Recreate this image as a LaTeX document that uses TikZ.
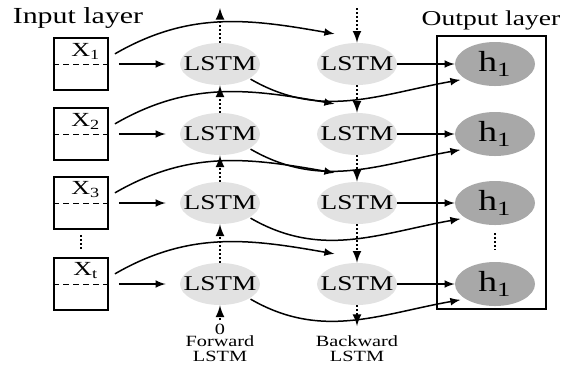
\documentclass[tikz,border=0pt]{standalone}
\usepackage{fontspec}
\setmainfont{Liberation Serif}
\usetikzlibrary{shapes.geometric,calc}
\definecolor{lstmgray}{RGB}{226,226,226}
\definecolor{outgray}{RGB}{168,168,168}
\newcommand{\wide}[1]{\scalebox{1.3}[1]{#1}}

\begin{document}
\begin{tikzpicture}[x=0.5pt,y=-0.5pt]
		\tikzset{>=latex}
		\tikzset{
			inbox/.style={draw,line width=0.9pt,minimum width=27pt,minimum height=26pt,inner sep=0pt},
			lstm/.style={ellipse,fill=lstmgray,minimum width=40pt,minimum height=21pt,inner xsep=-6pt,inner ysep=0pt,font=\fontsize{10.5}{11}\selectfont},
			hout/.style={ellipse,fill=outgray,minimum width=40pt,minimum height=22pt,inner sep=0pt,font=\fontsize{14.5}{15}\selectfont},
			xlabel/.style={inner sep=0pt,font=\fontsize{10}{11}\selectfont},
			flow/.style={->,line width=0.75pt},
			rec/.style={->,densely dotted,line width=1pt},
			dots/.style={densely dotted,line width=1pt},
			caption/.style={font=\fontsize{11.5}{13}\selectfont},
			small/.style={align=center,inner sep=0pt,font=\fontsize{7.8}{7.6}\selectfont}
		}
		\useasboundingbox (0,0) rectangle (587,366);
		
		\node[caption] (inlabel) at (78,18) {\wide{Input layer}};
		\node[caption,font=\fontsize{10.6}{12}\selectfont] (outlabel) at (491,20) {\wide{Output layer}};
		\node[draw,line width=0.9pt,minimum width=54.5pt,minimum height=136.5pt] (outbox) at (491.5,172.5) {};
		
		% one row per time step
		\foreach \r/\y/\s in {1/64/1,2/134/2,3/203/3,4/284/t}{
			\node[inbox] (x\r) at (81,\y) {};
			\draw[densely dashed] (x\r.west) -- (x\r.east);
			\node[xlabel] (xl\r) at ($(x\r.center)+(5,-13)$) {\wide{X\textsubscript{\s}}};
			\node[lstm] (f\r) at (220,\y) {\wide{LSTM}};
			\node[lstm] (b\r) at (357,\y) {\wide{LSTM}};
			\node[hout] (h\r) at (495,\y) {\wide{h\textsubscript{1}}};
			\draw[flow,shorten <=5pt,shorten >=7pt] (x\r.east) -- (f\r.west);
			\draw[flow] (b\r.east) -- (h\r.west);
			\draw[flow] ([xshift=3pt]x\r.20) to[out=30,in=170] ($(b\r.north west)+(6,-15)$);
			\draw[flow] ([xshift=1pt]f\r.south east) to[out=-30,in=190] ([xshift=-3pt]h\r.south west);
		}
		
		% recurrent links
		\foreach \r/\s in {1/2,2/3,3/4}{
			\draw[rec] (f\s.north) -- (f\r.south);
			\draw[rec] (b\r.south) -- (b\s.north);
		}
		\coordinate (ftop) at (220,8);
		\coordinate (btop) at (357,8);
		\coordinate (bbot) at (357,326);
		\draw[rec] (f1.north) -- (ftop);
		\draw[rec] (btop) -- (b1.north);
		\draw[rec] (b4.south) -- (bbot);
		
		\node[small,inner sep=1.5pt] (zero) at (220,329) {\wide{0}};
		\draw[rec] (zero) -- (f4.south);
		\node[small] (fwd) at (220,349) {\wide{Forward}\\\wide{LSTM}};
		\node[small] (bwd) at (357,349) {\wide{Backward}\\\wide{LSTM}};
		
		\draw[dots] ($(x3.south)+(0,5)$) -- ($(x4.north)+(0,-8)$);
		\draw[dots] ($(h3.south)+(0,8)$) -- ($(h4.north)+(0,-12)$);
		
	\end{tikzpicture}
\end{document}
